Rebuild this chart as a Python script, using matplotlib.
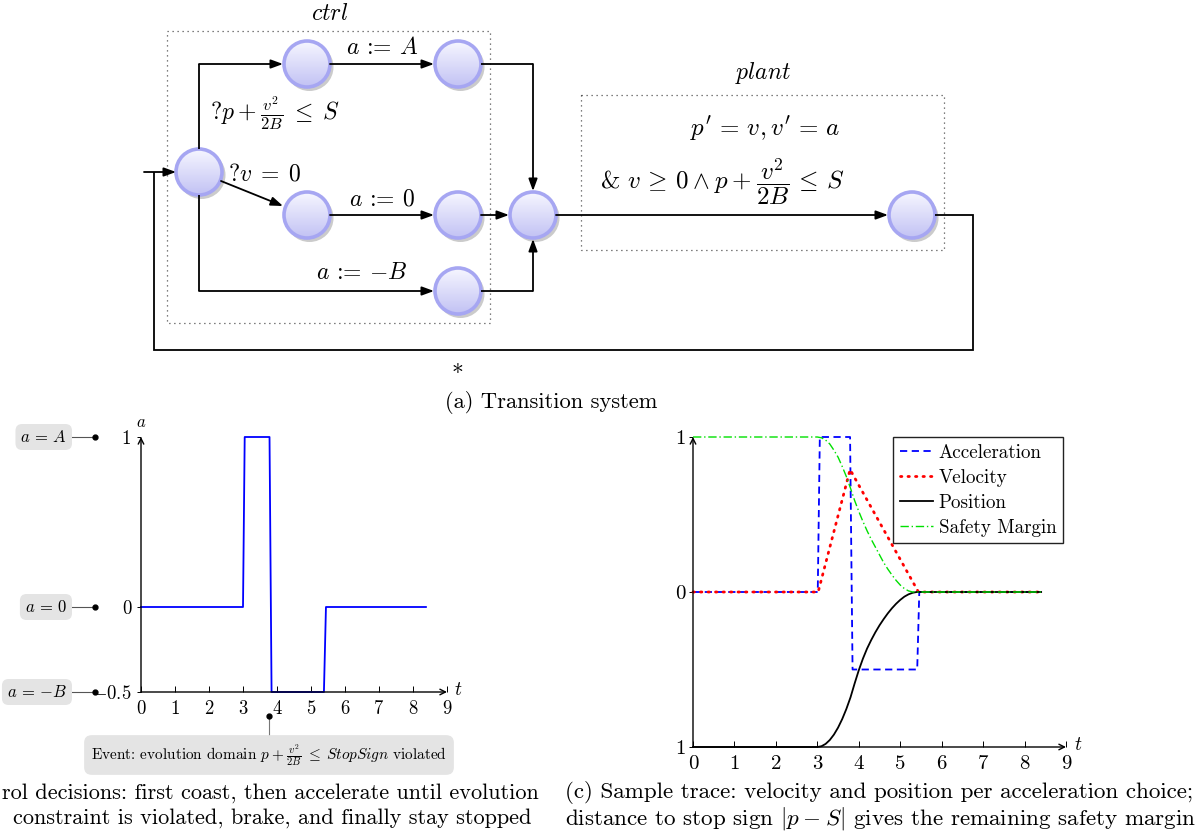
import matplotlib.pyplot as plt
import numpy as np
from matplotlib.patches import Circle, Rectangle
from matplotlib.colors import LinearSegmentedColormap

plt.rcParams['font.family'] = 'serif'
plt.rcParams['font.serif'] = ['cmr10', 'DejaVu Serif']
plt.rcParams['mathtext.fontset'] = 'cm'
plt.rcParams['axes.unicode_minus'] = False
plt.rcParams['axes.formatter.use_mathtext'] = True

W, H = 1204, 834

# (b) control decisions: acceleration over time
ctrl_t = [0, 3.0, 3.05, 3.78, 3.84, 5.38, 5.44, 8.38]
ctrl_a = [0, 0, 1, 1, -0.5, -0.5, 0, 0]
ctrl_ticks_y = [-0.5, 0, 1]
ctrl_ticklabels_y = ['$-0.5$', '0', '1']

# (c) sample trace
acc_t = [0, 3.01, 3.06, 3.79, 3.85, 5.41, 5.46, 8.4]
acc = [0, 0, 1, 1, -0.5, -0.5, 0, 0]
vel_t = [0, 3.02, 3.79, 5.44, 8.4]
vel = [0, 0, 0.79, 0, 0]
pos_t = [0, 3.0, 3.1, 3.2, 3.3, 3.4, 3.5, 3.6, 3.7, 3.8, 3.9, 4.0, 4.1, 4.2, 4.3,
         4.4, 4.5, 4.6, 4.7, 4.8, 4.9, 5.0, 5.1, 5.2, 5.3, 5.4, 8.4]
pos = [-1, -1, -0.995, -0.98, -0.955, -0.92, -0.875, -0.82, -0.755, -0.68, -0.59,
       -0.505, -0.43, -0.365, -0.31, -0.26, -0.215, -0.175, -0.138, -0.105, -0.076,
       -0.051, -0.03, -0.015, -0.005, 0, 0]
margin_t = [0, 3.0, 3.1, 3.2, 3.3, 3.4, 3.5, 3.6, 3.7, 3.8, 3.9, 4.0, 4.1, 4.2, 4.3,
            4.4, 4.5, 4.6, 4.7, 4.8, 4.9, 5.0, 5.1, 5.2, 5.3, 8.4]
margin = [1, 1, 0.995, 0.98, 0.955, 0.915, 0.87, 0.81, 0.745, 0.67, 0.59, 0.52,
          0.455, 0.395, 0.34, 0.29, 0.24, 0.19, 0.148, 0.11, 0.075, 0.045, 0.022,
          0.007, 0, 0]
trace_ticks_y = [-1, 0, 1]
trace_ticklabels_y = ['1', '0', '1']
t_ticks = list(range(10))

fig = plt.figure(figsize=(W / 100, H / 100), dpi=100)

# ---------- (a) transition system, drawn in pixel coords ----------
bg = fig.add_axes([0, 0, 1, 1])
bg.set_xlim(0, W)
bg.set_ylim(H, 0)
bg.axis('off')

node_cmap = LinearSegmentedColormap.from_list('node', ['#f6f6ff', '#c2c2f4'])
grad = np.linspace(0, 1, 64).reshape(-1, 1)


def node(x, y, r=23):
    bg.add_patch(Circle((x + 2.5, y + 3), r + 1, fc='#8c8c8c', ec='none', alpha=0.45, zorder=2))
    im = bg.imshow(grad, cmap=node_cmap, extent=[x - r, x + r, y - r, y + r],
                   origin='lower', aspect='auto', interpolation='bilinear', zorder=3)
    c = Circle((x, y), r, fc='none', ec='#a6a6f2', lw=2.6, zorder=4)
    bg.add_patch(c)
    im.set_clip_path(c)


def arrow(x0, y0, x1, y1):
    bg.annotate('', xy=(x1, y1), xytext=(x0, y0),
                arrowprops=dict(arrowstyle='-|>,head_length=0.6,head_width=0.22',
                                color='k', lw=1.3, mutation_scale=12,
                                shrinkA=0, shrinkB=0), zorder=5)


def line(xs, ys):
    bg.plot(xs, ys, color='k', lw=1.3, zorder=5, solid_capstyle='butt',
            solid_joinstyle='miter')


# dotted boxes
bg.add_patch(Rectangle((167, 31), 323, 292, fill=False, ec='#555555', lw=0.9,
                       ls=(0, (1, 3)), zorder=1))
bg.add_patch(Rectangle((581, 95), 363, 155, fill=False, ec='#555555', lw=0.9,
                       ls=(0, (1, 3)), zorder=1))

for nx, ny in [(199, 172), (307, 64), (458, 64), (307, 215), (458, 215),
               (458, 291), (533, 215), (912, 215)]:
    node(nx, ny)

line([199, 199], [149, 64])
arrow(199, 64, 283, 64)
arrow(330, 64, 434, 64)
line([481, 533], [64, 64])
arrow(533, 64, 533, 191)
arrow(221, 181, 283, 206)
arrow(330, 215, 434, 215)
arrow(481, 215, 509, 215)
line([199, 199], [195, 291])
arrow(199, 291, 434, 291)
line([481, 533], [291, 291])
arrow(533, 291, 533, 239)
arrow(556, 215, 888, 215)
line([935, 973, 973, 154, 154], [215, 215, 350, 350, 172])
arrow(144, 172, 176, 172)

fs = 17
bg.text(330, 14, '$ctrl$', fontsize=17, ha='center', va='center')
bg.text(382, 48, '$a$ := $A$', fontsize=fs, ha='center', va='center')
bg.text(275, 113, r'$?p\:+\:\frac{v^2}{2B}\;\leq\;S$', fontsize=fs, ha='center', va='center')
bg.text(265, 174, r'$?v\;=\;0$', fontsize=fs, ha='center', va='center')
bg.text(382, 199, '$a$ := 0', fontsize=fs, ha='center', va='center')
bg.text(362, 273, r'$a$ := $-B$', fontsize=fs, ha='center', va='center')
bg.text(763, 73, '$plant$', fontsize=17, ha='center', va='center')
bg.text(765, 129, r"$p'\,=\,v, v'\,=\,a$", fontsize=18, ha='center', va='center')
bg.text(722, 182, r'& $v\,\geq\,0\:\wedge\:p\:+\:\dfrac{v^2}{2B}\,\leq\,S$', fontsize=18,
        ha='center', va='center')
bg.text(457, 367, r'$\ast$', fontsize=fs, ha='center', va='center')
bg.text(551, 402, '(a) Transition system', fontsize=16.2, ha='center', va='center')

# ---------- (b) annotations ----------
box = dict(boxstyle='round,pad=0.3,rounding_size=0.4', fc='#e4e4e4', ec='none')
for lab, yy in [(r'$a\,=\,A$', 437), (r'$a\,=\,0$', 607), (r'$a\,=\,{-}B$', 692)]:
    bg.text(67, yy, lab, fontsize=12, ha='right', va='center', bbox=box)
    bg.plot([71, 95], [yy, yy], color='#555555', lw=0.8)
    bg.plot(95, yy, 'o', ms=3.5, color='k')
bg.plot([269, 269], [716, 738], color='#777777', lw=0.8)
bg.plot(269, 716, 'o', ms=3.5, color='k')
bg.text(269, 755, r'Event: evolution domain $p\:+\:\frac{v^2}{2B}\;\leq\;StopSign$ violated',
        fontsize=11, ha='center', va='center',
        bbox=dict(boxstyle='round,pad=0.45,rounding_size=0.5', fc='#e4e4e4', ec='none'))
bg.text(2, 793, 'rol decisions: first coast, then accelerate until evolution',
        fontsize=16, ha='left', va='center')
bg.text(13, 818, 'constraint is violated, brake, and finally stay stopped',
        fontsize=16, ha='left', va='center')
bg.text(565, 793, '(c) Sample trace: velocity and position per acceleration choice;',
        fontsize=16.6, ha='left', va='center')
bg.text(565, 818, r'distance to stop sign $|p\:-\:S|$ gives the remaining safety margin',
        fontsize=16.6, ha='left', va='center')


def setup_axes(ax, ylo, yhi, yticks, ylabels, fsz, ypad):
    ax.patch.set_alpha(0)
    for s in ax.spines.values():
        s.set_visible(False)
    ax.set_xlim(0, 9)
    ax.set_ylim(ylo, yhi)
    ax.annotate('', xy=(1, 0), xytext=(0, 0), xycoords='axes fraction',
                arrowprops=dict(arrowstyle='->', lw=1, color='k', shrinkA=0, shrinkB=0))
    ax.annotate('', xy=(0, 1), xytext=(0, 0), xycoords='axes fraction',
                arrowprops=dict(arrowstyle='->', lw=1, color='k', shrinkA=0, shrinkB=0))
    ax.set_xticks(t_ticks)
    ax.set_xticklabels([str(v) for v in t_ticks])
    ax.set_yticks(yticks)
    ax.set_yticklabels(ylabels)
    ax.tick_params(axis='x', direction='in', length=4, width=0.7, labelsize=fsz, pad=6)
    ax.tick_params(axis='y', direction='out', length=3, width=0.7, labelsize=fsz, pad=ypad)


# ---------- (b) control decisions ----------
ax1 = fig.add_axes([141 / W, 1 - 692 / H, 306 / W, 255 / H])
setup_axes(ax1, -0.5, 1, ctrl_ticks_y, ctrl_ticklabels_y, 13.5, 4)
ax1.plot(ctrl_t, ctrl_a, color='#0000ff', lw=1.3, clip_on=False)
bg.text(141, 422, '$a$', fontsize=12, ha='center', va='center')
bg.text(458, 690, '$t$', fontsize=14, ha='center', va='center')

# ---------- (c) sample trace ----------
ax2 = fig.add_axes([693 / W, 1 - 747 / H, 373 / W, 310 / H])
setup_axes(ax2, -1, 1, trace_ticks_y, trace_ticklabels_y, 15, 2)
ax2.plot(acc_t, acc, color='#0000ff', lw=1.3, ls=(0, (4, 2.5)), label='Acceleration', clip_on=False)
ax2.plot(vel_t, vel, color='#ff0000', lw=2.0, ls=(0, (0.5, 2.2)), dash_capstyle='round',
         label='Velocity', clip_on=False)
ax2.plot(pos_t, pos, color='k', lw=1.3, label='Position', clip_on=False)
ax2.plot(margin_t, margin, color='#00e000', lw=1.0, ls=(0, (6, 2, 1, 2)),
         label='Safety Margin', clip_on=False)
leg = ax2.legend(loc='upper left', bbox_to_anchor=(893 / W, 1 - 437 / H),
                 bbox_transform=fig.transFigure, borderaxespad=0, fancybox=False,
                 edgecolor='#222222', fontsize=13.7, handlelength=1.75,
                 labelspacing=0.37, borderpad=0.35, handletextpad=0.3, framealpha=1)
leg.get_frame().set_linewidth(1.0)
bg.text(1078, 745, '$t$', fontsize=14, ha='center', va='center')

bg.set_xlim(0, W)
bg.set_ylim(H, 0)

plt.savefig('out.png', dpi=100)
